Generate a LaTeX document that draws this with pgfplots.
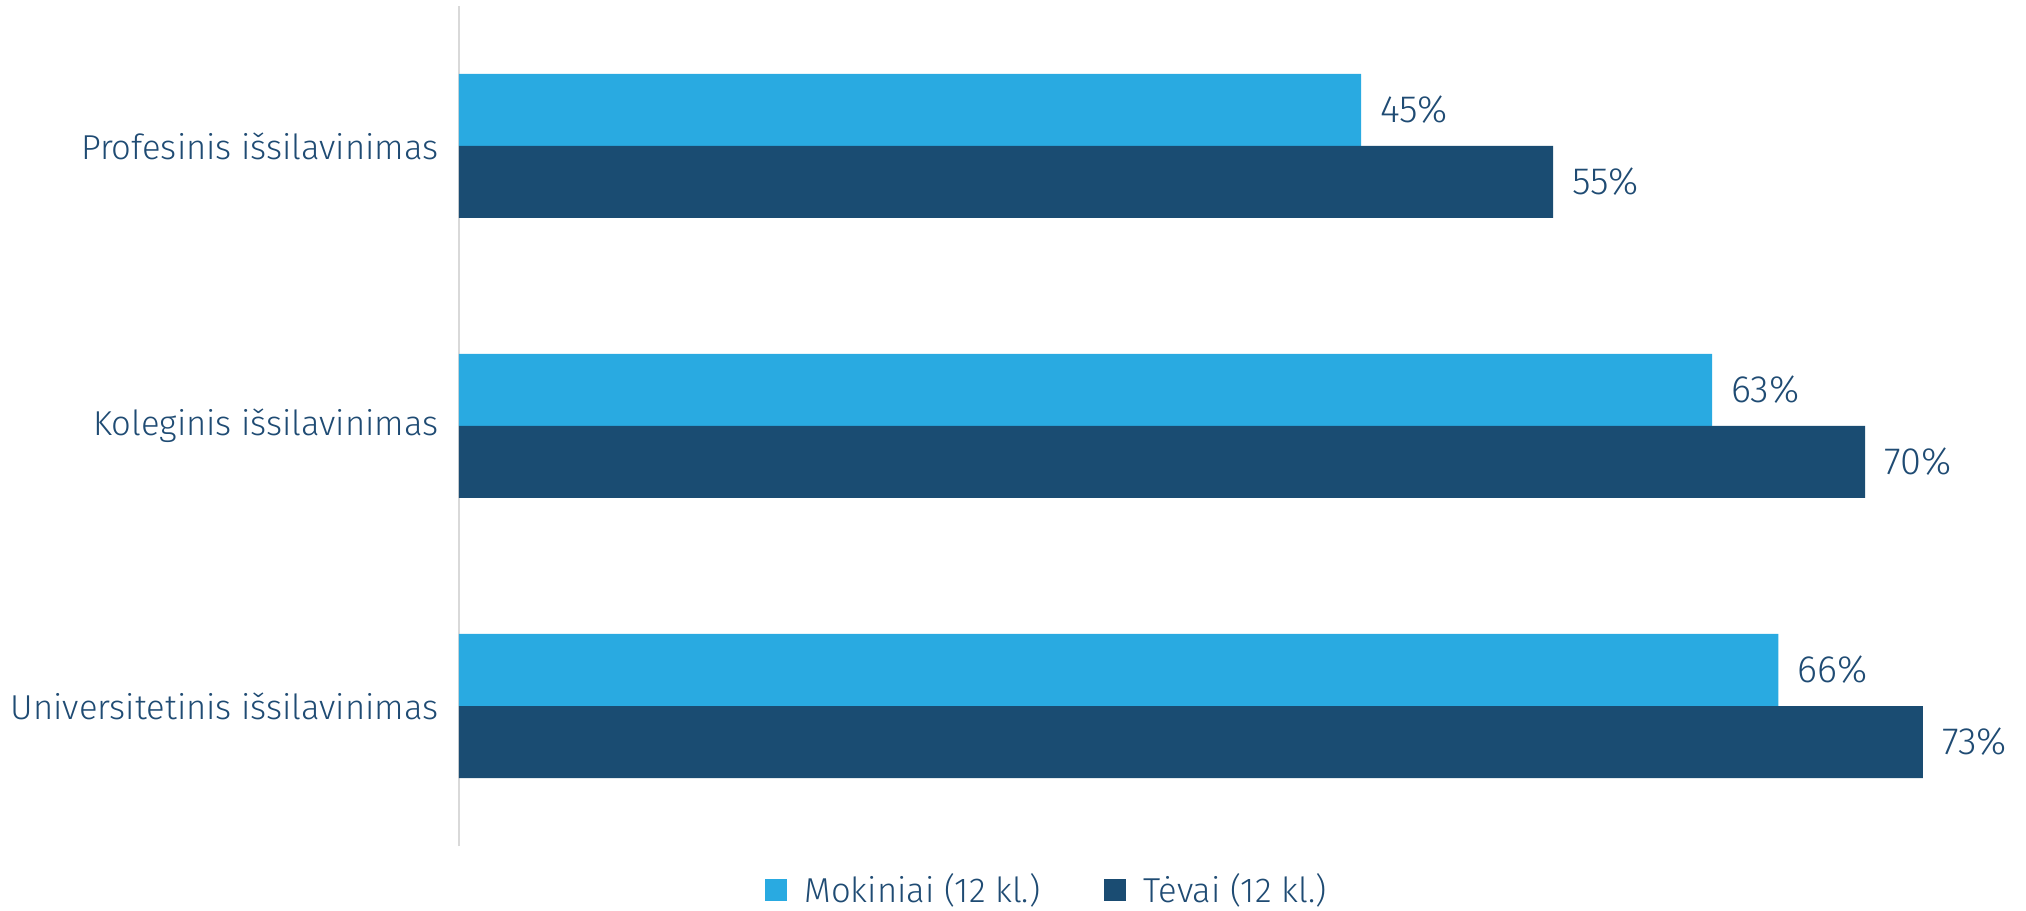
\documentclass[border=0pt]{standalone}
\usepackage{pgfplots}
\pgfplotsset{compat=1.18}
\usepackage{fontspec}
\setmainfont{Fira Sans}[UprightFont=* Light]
\definecolor{light}{HTML}{29AAE1}
\definecolor{dark}{HTML}{1A4C72}
\definecolor{txt}{HTML}{1F4B73}
\definecolor{axisgray}{HTML}{D9D9D9}
\newcommand{\lblfont}{\fontsize{17.3}{20.8}\selectfont}
\newcommand{\valfont}{\fontsize{19}{22.8}\selectfont}

\begin{document}
\begin{tikzpicture}
\useasboundingbox (-229.5pt,-32.5pt) rectangle (783.5pt,423pt);
\begin{axis}[
  at={(0,0)}, anchor=south west,
  scale only axis, width=750pt, height=420pt,
  xbar, bar width=36pt,
  xmin=0, xmax=75, ymin=-0.5, ymax=2.5,
  ytick={0,1,2},
  yticklabels={Universitetinis išsilavinimas, Koleginis išsilavinimas, Profesinis išsilavinimas},
  xtick={0}, xticklabels={},
  xmajorgrids, major grid style={draw=axisgray, line width=1pt},
  major tick length=0pt, axis line style={draw=none},
  yticklabel style={font=\lblfont, text=txt, inner sep=0pt, xshift=-10pt},
  point meta=x,
  /pgf/number format/assume math mode=true,
  nodes near coords={\pgfmathprintnumber[fixed, precision=0]{\pgfplotspointmeta}\%},
  nodes near coords style={font=\valfont, text=txt, anchor=west, inner sep=0pt, xshift=9.5pt},
  legend columns=2,
  legend style={at={(0.3927,-0.0524)}, anchor=center, draw=none, fill=none,
    inner sep=0pt, font=\lblfont, text=txt,
    /tikz/every odd column/.append style={column sep=6.5pt},
    /tikz/every even column/.append style={column sep=30pt}},
  legend image code/.code={\fill[#1] (0pt,-5.5pt) rectangle (11pt,5.5pt);},
]
\addplot[fill=light, draw=none, bar shift=18pt] coordinates {(65.97,0) (62.65,1) (45.1,2)};
\addlegendentry{Mokiniai (12 kl.)}
\addplot[fill=dark, draw=none, bar shift=-18pt] coordinates {(73.19,0) (70.3,1) (54.7,2)};
\addlegendentry{Tėvai (12 kl.)}
\end{axis}
\end{tikzpicture}
\end{document}
